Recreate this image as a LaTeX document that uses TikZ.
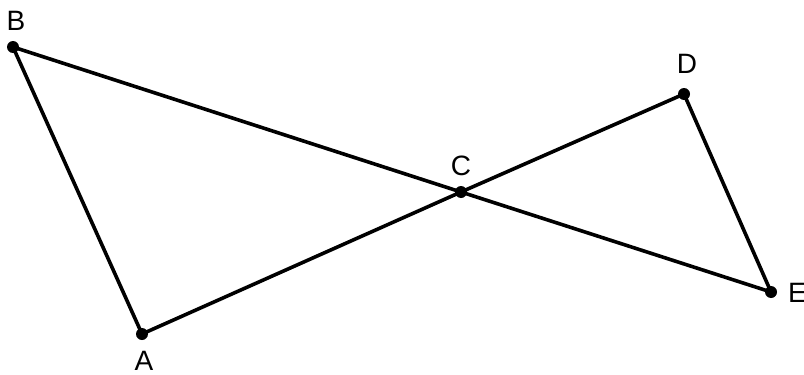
\documentclass[tikz,border=0pt]{standalone}
\usepackage{fontspec}
\setmainfont{Liberation Sans}
\begin{document}
\begin{tikzpicture}[x=1pt,y=-1pt,
  seg/.style={line width=3.6pt,line cap=round},
  pt/.style={circle,fill=black,inner sep=0pt,minimum size=12pt},
  lbl/.style={font=\fontsize{28}{28}\selectfont,inner sep=0pt}]
\useasboundingbox (0,0) rectangle (804,375);
\node[pt] (B) at (13,47) {};
\node[pt] (A) at (142,334) {};
\node[pt] (C) at (461,192) {};
\node[pt] (D) at (684,94) {};
\node[pt] (E) at (771,292) {};
\draw[seg] (B.center) -- (A.center) -- (C.center) -- (D.center) -- (E.center) -- (C.center) -- (B.center);
\node[lbl] (lB) at (16,21) {B};
\node[lbl] (lA) at (144,361) {A};
\node[lbl] (lC) at (461,166) {C};
\node[lbl] (lD) at (687,64) {D};
\node[lbl,anchor=west] (lE) at (788,293) {E};
\end{tikzpicture}
\end{document}
